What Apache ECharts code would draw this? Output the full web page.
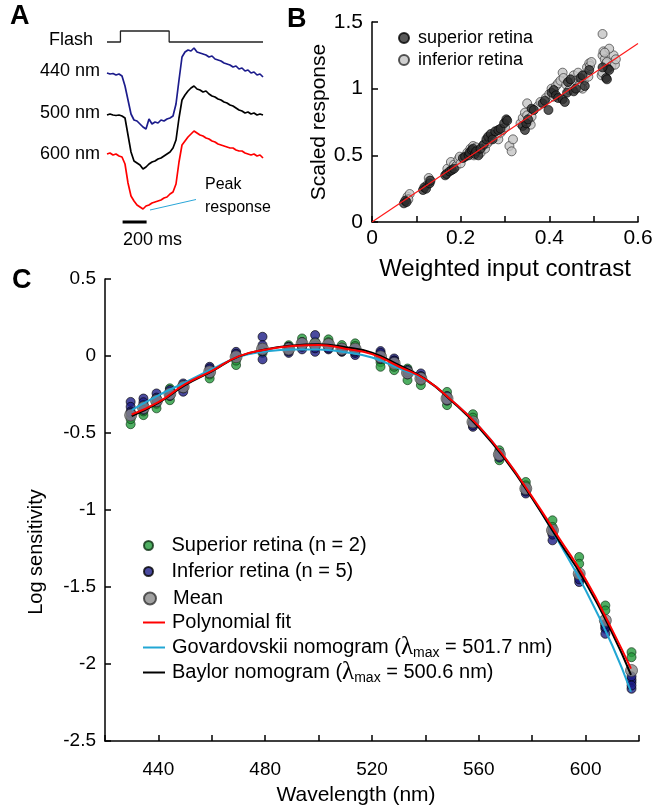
<!DOCTYPE html>
<html><head><meta charset="utf-8">
<script src="https://cdn.jsdelivr.net/npm/echarts@6/dist/echarts.min.js"></script>
<style>html,body{margin:0;padding:0;background:#fff}#c{width:659px;height:805px}</style>
</head><body><div id="c"></div>
<script>
// ===== Panel A: example photoreceptor responses (amplitude, arbitrary units; down = hyperpolarising) =====
const traceTimeMs = [0,25,50,75,100,125,150,175,200,225,250,275,300,325,350,375,400,425,450,475,500,525,550,575,600,625,650,675,700,725,750,775,800,825,850,875,900,925,950,975,1000,1025,1050,1075,1100,1125,1150,1175,1200,1225,1250,1275,1300];
const trace440 = [0,-1,-0.5,-2,-1,-3,-13,-27,-41,-47,-48,-51,-54,-56,-46,-51,-49,-50,-47,-48,-46,-45,-43,-31,-7,16,21,23,22,25,21,20,19,18,16,17,14,13,12,10,9,8,6,7,4,5,2,3,0,1,-2,-1,-4];
const trace500 = [0,1,0,-0.5,0,-1,-3,-20,-37,-46,-48,-50,-54,-52,-49,-47,-46,-44,-43,-41,-39,-37,-33,-25,-3,15,20,24,27,29,26,25,23,24,21,19,18,16,15,13,12,10,9,7,5,4,2,3,1,2,0,1,0];
const trace600 = [0,1,-1,0,-2,-3,-10,-29,-42,-47,-51,-53,-55,-52,-51,-49,-48,-47,-46,-44,-43,-40,-38,-30,-8,9,13,17,20,23,21,19,18,16,15,13,12,10,9,8,7,6,6,4,3,3,1,0,-1,0,-2,-1,-4];
const traceLabels = ['440 nm','500 nm','600 nm'];
const flashTimeMs = [0,112,518,1300];
const flashState  = [0,1,0,0];
const scaleBarMs = 200;

// ===== Panel B: scaled response vs weighted input contrast =====
const superiorPoints = [[0.072,0.14],[0.075,0.16],[0.078,0.15],[0.115,0.24],[0.118,0.26],[0.122,0.25],[0.13,0.29],[0.132,0.31],[0.165,0.35],[0.168,0.36],[0.175,0.38],[0.18,0.39],[0.185,0.40],[0.205,0.48],[0.21,0.49],[0.218,0.50],[0.22,0.52],[0.225,0.54],[0.228,0.55],[0.232,0.51],[0.235,0.53],[0.24,0.50],[0.245,0.55],[0.252,0.58],[0.258,0.62],[0.262,0.64],[0.268,0.66],[0.272,0.62],[0.278,0.68],[0.285,0.69],[0.29,0.70],[0.298,0.74],[0.303,0.77],[0.305,0.76],[0.34,0.72],[0.345,0.69],[0.348,0.74],[0.352,0.77],[0.36,0.85],[0.365,0.84],[0.385,0.89],[0.39,0.91],[0.398,0.84],[0.405,0.97],[0.41,0.99],[0.415,0.95],[0.42,0.93],[0.43,0.92],[0.435,0.90],[0.44,0.97],[0.442,1.05],[0.448,1.07],[0.455,0.98],[0.46,1.00],[0.47,1.08],[0.475,1.10],[0.48,1.02],[0.49,1.14],[0.528,1.08],[0.53,1.07],[0.532,1.15],[0.535,1.14],[0.52,1.16]];
const inferiorPoints = [[0.08,0.19],[0.085,0.21],[0.082,0.17],[0.125,0.28],[0.128,0.33],[0.13,0.31],[0.17,0.40],[0.178,0.45],[0.185,0.43],[0.19,0.42],[0.195,0.47],[0.198,0.49],[0.2,0.44],[0.215,0.52],[0.222,0.55],[0.228,0.57],[0.23,0.50],[0.235,0.56],[0.24,0.53],[0.245,0.52],[0.25,0.57],[0.255,0.55],[0.26,0.59],[0.265,0.61],[0.27,0.63],[0.275,0.65],[0.28,0.64],[0.285,0.62],[0.29,0.67],[0.295,0.69],[0.3,0.71],[0.31,0.57],[0.315,0.53],[0.318,0.62],[0.335,0.74],[0.34,0.78],[0.345,0.82],[0.35,0.80],[0.355,0.76],[0.358,0.73],[0.36,0.79],[0.35,0.89],[0.375,0.87],[0.38,0.90],[0.392,0.93],[0.4,0.96],[0.405,1.0],[0.41,0.94],[0.415,1.02],[0.42,1.04],[0.425,1.06],[0.43,1.12],[0.432,1.08],[0.438,1.03],[0.445,0.99],[0.45,1.04],[0.455,1.10],[0.46,1.06],[0.465,1.12],[0.468,1.03],[0.472,1.05],[0.478,1.06],[0.48,1.10],[0.485,1.16],[0.49,1.19],[0.492,1.17],[0.495,1.20],[0.488,1.09],[0.475,1.00],[0.47,1.01],[0.52,1.41],[0.52,1.25],[0.522,1.28],[0.525,1.22],[0.528,1.19],[0.53,1.20],[0.518,1.10],[0.52,1.12],[0.54,1.17],[0.545,1.25],[0.548,1.18],[0.55,1.22],[0.535,1.30],[0.525,1.27]];
const fitLineX = [0, 0.6];
const fitLineY = [0, 1.338];

// ===== Panel C: spectral sensitivity =====
const wavelengthNm = [429.6,434.4,439.3,444.3,449.3,459.2,469.1,479.0,488.8,493.8,498.7,503.7,508.7,513.7,523.2,528.3,533.3,538.3,548.1,557.8,567.7,577.6,587.6,597.6,607.4,617.2];
const meanLogS  = [-0.384,-0.335,-0.290,-0.245,-0.200,-0.103,-0.005,0.045,0.045,0.080,0.075,0.075,0.045,0.045,-0.005,-0.048,-0.109,-0.146,-0.276,-0.428,-0.640,-0.861,-1.132,-1.414,-1.717,-2.042];
const superior1 = [-0.443,-0.384,-0.340,-0.287,-0.210,-0.146,-0.059,0.020,0.070,0.114,0.093,0.108,0.071,0.082,-0.040,-0.092,-0.081,-0.189,-0.233,-0.378,-0.612,-0.818,-1.067,-1.305,-1.620,-1.923];
const superior2 = [-0.410,-0.360,-0.310,-0.210,-0.190,-0.120,-0.030,0.040,0.060,0.090,0.080,0.090,0.055,0.065,-0.070,-0.070,-0.157,-0.160,-0.319,-0.400,-0.677,-0.840,-1.110,-1.349,-1.652,-1.956];
const inferior1 = [-0.298,-0.276,-0.243,-0.230,-0.178,-0.070,0.027,0.125,0.020,0.043,0.136,0.043,0.027,0.006,0.032,-0.016,-0.100,-0.113,-0.270,-0.460,-0.650,-0.893,-1.197,-1.468,-1.771,-2.118];
const inferior2 = [-0.330,-0.300,-0.270,-0.250,-0.232,-0.090,0.010,0.071,0.030,0.060,0.027,0.060,0.030,0.020,0.010,-0.030,-0.110,-0.130,-0.280,-0.440,-0.630,-0.870,-1.150,-1.430,-1.804,-2.161];
const inferior3 = [-0.360,-0.320,-0.290,-0.240,-0.200,-0.100,-0.010,-0.022,0.050,0.080,0.060,0.070,0.040,0.040,-0.020,-0.040,-0.120,-0.140,-0.290,-0.430,-0.640,-0.860,-1.140,-1.440,-1.750,-2.100];
const inferior4 = [-0.390,-0.330,-0.300,-0.260,-0.190,-0.110,0.000,0.050,0.040,0.070,0.070,0.080,0.050,0.030,0.000,-0.050,-0.090,-0.150,-0.260,-0.450,-0.660,-0.880,-1.160,-1.450,-1.760,-2.080];
const inferior5 = [-0.370,-0.350,-0.280,-0.220,-0.210,-0.080,0.015,0.030,0.060,0.090,0.050,0.050,0.035,0.050,0.020,-0.030,-0.105,-0.135,-0.285,-0.435,-0.645,-0.865,-1.130,-1.420,-1.740,-2.140];
const curveLambda   = [430,440,450,460,470,480,490,500,510,520,530,540,550,560,570,580,590,600,610,617];
const polyFit       = [-0.380,-0.300,-0.183,-0.097,-0.002,0.041,0.065,0.071,0.047,0.012,-0.068,-0.152,-0.290,-0.455,-0.665,-0.915,-1.180,-1.450,-1.780,-2.030];
const govardovskii  = [-0.352,-0.256,-0.172,-0.086,-0.006,0.029,0.043,0.043,0.025,-0.010,-0.080,-0.155,-0.290,-0.455,-0.665,-0.920,-1.210,-1.520,-1.880,-2.180];
const baylor        = [-0.390,-0.305,-0.190,-0.100,-0.004,0.042,0.068,0.077,0.057,0.022,-0.058,-0.150,-0.295,-0.465,-0.675,-0.925,-1.200,-1.470,-1.800,-2.070];
const lambdaMaxGov = 501.7, lambdaMaxBaylor = 500.6;

// ----- layout / style helpers -----
const FONT = '"Liberation Sans", Arial, sans-serif';
const traceOffset = [0, -42, -81];      // vertical stacking of traces in panel A
const flashBase = 31, flashHeight = 11;  // placement of the flash monitor trace
const scaleBarStart = 130, scaleBarLevel = -149;
const pairs = (xs, ys, off) => xs.map((x, i) => [x, ys[i] + (off || 0)]);
const LINE_ICON = 'path://M0,0L22,0L22,2L0,2Z';

const axisCommon = (fs) => ({
  axisLine: { show: true, onZero: false, lineStyle: { color: '#000', width: 1.5 } },
  axisTick: { show: true, inside: true, length: 6, lineStyle: { color: '#000', width: 1.5 } },
  splitLine: { show: false },
  axisLabel: { color: '#000', fontFamily: FONT, fontSize: fs }
});

const chart = echarts.init(document.getElementById('c'));
const traceColors = ['#1c1c8c', '#000000', '#ff0000'];
const traces = [trace440, trace500, trace600];

const series = [];
// Panel A
series.push({
  type: 'line', xAxisIndex: 0, yAxisIndex: 0, step: 'end', symbol: 'none', silent: true,
  lineStyle: { color: '#222', width: 1.3 },
  data: flashTimeMs.map((t, i) => [t, flashBase + flashState[i] * flashHeight])
});
traces.forEach((tr, k) => series.push({
  type: 'line', xAxisIndex: 0, yAxisIndex: 0, symbol: 'none', silent: true,
  lineStyle: { color: traceColors[k], width: 1.7 },
  data: pairs(traceTimeMs, tr, traceOffset[k])
}));
series.push({
  type: 'line', xAxisIndex: 0, yAxisIndex: 0, symbol: 'none', silent: true,
  lineStyle: { color: '#000', width: 3 },
  data: [[scaleBarStart, scaleBarLevel], [scaleBarStart + scaleBarMs, scaleBarLevel]]
});
// Panel B
series.push({
  name: 'inferior retina', type: 'scatter', xAxisIndex: 1, yAxisIndex: 1, symbolSize: 9,
  itemStyle: { color: '#c4c4c4', borderColor: '#2a2a2a', borderWidth: 0.8 },
  data: inferiorPoints
});
series.push({
  name: 'superior retina', type: 'scatter', xAxisIndex: 1, yAxisIndex: 1, symbolSize: 9,
  itemStyle: { color: '#2e2e2e', borderColor: '#000', borderWidth: 0.8 },
  data: superiorPoints
});
series.push({
  type: 'line', xAxisIndex: 1, yAxisIndex: 1, symbol: 'none', silent: true,
  lineStyle: { color: '#ff1a1a', width: 1.2 }, data: pairs(fitLineX, fitLineY)
});
// Panel C
series.push({
  name: 'Superior retina (n = 2)', type: 'scatter', xAxisIndex: 2, yAxisIndex: 2, symbolSize: 9,
  itemStyle: { color: '#239a3b', borderColor: '#0b2e12', borderWidth: 0.8 },
  data: pairs(wavelengthNm, superior1).concat(pairs(wavelengthNm, superior2))
});
series.push({
  name: 'Inferior retina (n = 5)', type: 'scatter', xAxisIndex: 2, yAxisIndex: 2, symbolSize: 9,
  itemStyle: { color: '#1d1d86', borderColor: '#000', borderWidth: 0.8 },
  data: [inferior1, inferior2, inferior3, inferior4, inferior5].flatMap(a => pairs(wavelengthNm, a))
});
series.push({
  name: 'Mean', type: 'scatter', xAxisIndex: 2, yAxisIndex: 2, symbolSize: 12,
  itemStyle: { color: '#8a8a8a', borderColor: '#333', borderWidth: 0.8 },
  data: pairs(wavelengthNm, meanLogS)
});
series.push({
  name: 'Govardovskii nomogram', type: 'line', xAxisIndex: 2, yAxisIndex: 2, symbol: 'none', smooth: true,
  itemStyle: { color: '#22a7d4' }, lineStyle: { color: '#22a7d4', width: 2 }, data: pairs(curveLambda, govardovskii)
});
series.push({
  name: 'Baylor nomogram', type: 'line', xAxisIndex: 2, yAxisIndex: 2, symbol: 'none', smooth: true,
  itemStyle: { color: '#000' }, lineStyle: { color: '#000', width: 2 }, data: pairs(curveLambda, baylor)
});
series.push({
  name: 'Polynomial fit', type: 'line', xAxisIndex: 2, yAxisIndex: 2, symbol: 'none', smooth: true,
  itemStyle: { color: '#ff0000' }, lineStyle: { color: '#ff0000', width: 2 }, data: pairs(curveLambda, polyFit)
});

const legendRich = { l: { fontFamily: '"Liberation Serif", serif', fontSize: 25, lineHeight: 25, color: '#000' },
                     s: { fontFamily: FONT, fontSize: 14, lineHeight: 14, verticalAlign: 'bottom', color: '#000' } };
const legendText = { color: '#000', fontFamily: FONT, fontSize: 20, lineHeight: 25, padding: [0, 0, 0, 7], rich: legendRich };
const legendTextLines = { color: '#000', fontFamily: FONT, fontSize: 20, lineHeight: 25, padding: [0, 0, 0, 2], rich: legendRich };
const legendFmt = (name) => {
  if (name === 'Govardovskii nomogram') return 'Govardovskii nomogram ({l|λ}{s|max} = ' + lambdaMaxGov + ' nm)';
  if (name === 'Baylor nomogram') return 'Baylor nomogram ({l|λ}{s|max} = ' + lambdaMaxBaylor + ' nm)';
  return name;
};

const txt = (text, x, y, size, opts) => Object.assign({
  type: 'text', x: x, y: y, silent: true,
  style: Object.assign({ text: text, fill: '#000', font: size + 'px ' + FONT,
    align: 'left', textAlign: 'left', verticalAlign: 'middle', textVerticalAlign: 'middle' }, (opts && opts.style) || {})
}, (opts && opts.el) || {});

const option = {
  animation: false,
  backgroundColor: '#fff',
  grid: [
    { left: 107, width: 156, top: 25, height: 220 },
    { left: 372, right: 21, top: 22, bottom: 583 },
    { left: 105, right: 20, top: 279, bottom: 64 }
  ],
  xAxis: [
    { gridIndex: 0, type: 'value', min: 0, max: 1300, show: false },
    Object.assign(axisCommon(21), { gridIndex: 1, type: 'value', min: 0, max: 0.6, interval: 0.1,
      name: 'Weighted input contrast', nameLocation: 'middle', nameGap: 35,
      nameTextStyle: { color: '#000', fontFamily: FONT, fontSize: 24 },
      axisLabel: { color: '#000', fontFamily: FONT, fontSize: 21, margin: 6,
        formatter: (v) => { const k = Math.round(v * 10); return k % 2 === 0 ? String(k / 10) : ''; } } }),
    Object.assign(axisCommon(19), { gridIndex: 2, type: 'value', min: 420, max: 620, interval: 20,
      axisLabel: { color: '#000', fontFamily: FONT, fontSize: 19, margin: 19,
        formatter: (v) => ((v - 440) % 40 === 0 ? String(v) : '') } })
  ],
  yAxis: [
    { gridIndex: 0, type: 'value', min: -172, max: 48, show: false },
    Object.assign(axisCommon(21), { gridIndex: 1, type: 'value', min: 0, max: 1.5, interval: 0.5,
      name: 'Scaled response', nameLocation: 'middle', nameGap: 40,
      nameTextStyle: { color: '#000', fontFamily: FONT, fontSize: 21 },
      axisLabel: { color: '#000', fontFamily: FONT, fontSize: 21, margin: 9 } }),
    Object.assign(axisCommon(19), { gridIndex: 2, type: 'value', min: -2.5, max: 0.5, interval: 0.5,
      axisLabel: { color: '#000', fontFamily: FONT, fontSize: 19, margin: 9 } })
  ],
  legend: [
    { left: 393, top: 22, orient: 'vertical', itemWidth: 10, itemHeight: 10, itemGap: 0, icon: 'circle',
      data: ['superior retina', 'inferior retina'],
      textStyle: { color: '#000', fontFamily: FONT, fontSize: 18, lineHeight: 22, padding: [0, 0, 0, 4] } },
    { left: 138, top: 528, orient: 'vertical', itemWidth: 22, itemHeight: 9, itemGap: 1, icon: 'circle',
      data: ['Superior retina (n = 2)', 'Inferior retina (n = 5)'], textStyle: legendText },
    { left: 138, top: 581, orient: 'vertical', itemWidth: 22, itemHeight: 12, itemGap: 1, icon: 'circle',
      data: ['Mean'], textStyle: legendText },
    { left: 138, top: 605, orient: 'vertical', itemWidth: 22, itemHeight: 14, itemGap: 0,
      data: [{ name: 'Polynomial fit', icon: LINE_ICON }, { name: 'Govardovskii nomogram', icon: LINE_ICON },
             { name: 'Baylor nomogram', icon: LINE_ICON }],
      formatter: legendFmt, textStyle: legendTextLines }
  ],
  graphic: [
    txt('A', 10, 17, 27, { style: { font: 'bold 27px ' + FONT } }),
    txt('B', 287, 20, 27, { style: { font: 'bold 27px ' + FONT } }),
    txt('C', 12, 281, 27, { style: { font: 'bold 27px ' + FONT } }),
    txt('Flash', 93, 40, 18, { style: { align: 'right', textAlign: 'right' } }),
    txt(traceLabels[0], 100, 71, 18, { style: { align: 'right', textAlign: 'right' } }),
    txt(traceLabels[1], 100, 113, 18, { style: { align: 'right', textAlign: 'right' } }),
    txt(traceLabels[2], 100, 154, 18, { style: { align: 'right', textAlign: 'right' } }),
    txt(scaleBarMs + ' ms', 123, 240, 18),
    txt('Peak', 205, 185, 16),
    txt('response', 205, 208, 16),
    { type: 'line', silent: true, shape: { x1: 150, y1: 210, x2: 196, y2: 199.5 },
      style: { stroke: '#2aa6d8', lineWidth: 1 } },
    txt('Log sensitivity', 36, 552, 20, { style: { align: 'center', textAlign: 'center' }, el: { rotation: Math.PI / 2 } }),
    txt('Wavelength (nm)', 356, 795, 21, { style: { align: 'center', textAlign: 'center' } })
  ],
  series: series
};
chart.setOption(option);
</script>
</body></html>
